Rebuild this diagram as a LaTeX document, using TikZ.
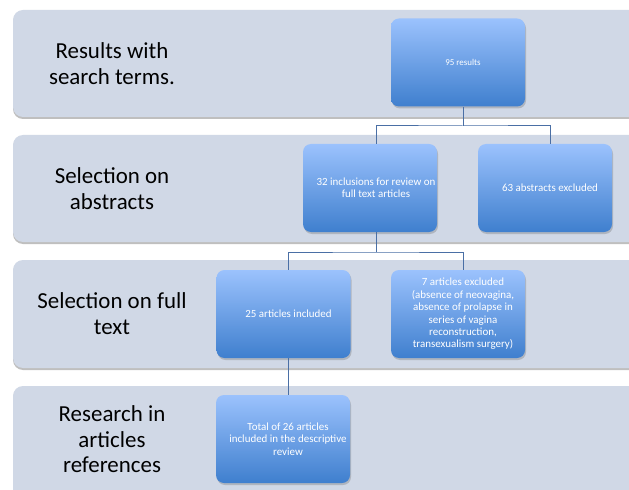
\documentclass[tikz,border=0pt]{standalone}
\usepackage{fontspec}
\setmainfont{Carlito}
\usetikzlibrary{shadows,fadings}
\definecolor{bandfill}{HTML}{D0D8E6}
\definecolor{boxtop}{HTML}{9BC2FD}
\definecolor{boxbot}{HTML}{3F7FCE}
\definecolor{conn}{HTML}{4A6FA5}
\begin{document}
\begin{tikzpicture}[x=1bp,y=-1bp,
  band/.style={fill=bandfill, rounded corners=10bp,
    drop shadow={shadow xshift=0bp, shadow yshift=-2bp, opacity=0.45, fill=black!55}},
  bandlabel/.style={align=center, text=black, inner sep=0pt,
    font=\fontsize{23}{25.5}\selectfont},
  box/.style={rectangle, rounded corners=8bp, top color=boxtop, bottom color=boxbot,
    draw=none, minimum width=134bp, minimum height=88bp, inner sep=0pt,
    drop shadow={shadow xshift=1bp, shadow yshift=-2bp, opacity=0.3, fill=black!60}},
  boxtext/.style={align=center, text=white, inner sep=0pt,
    font=\fontsize{11}{12.5}\selectfont},
  conn/.style={draw=conn, line width=1bp}
]
\useasboundingbox (0,0) rectangle (629,490);
\clip (0,0) rectangle (629,490);
\fill[white] (0,0) rectangle (629,490);

% bands
\fill[band] (13,10) rectangle (670,117);
\fill[band] (13,135) rectangle (670,242);
\fill[band] (13,260) rectangle (670,368);
\fill[band] (13,386) rectangle (670,500);

% band labels
\node[bandlabel] (l1) at (112,63.5) {Results with\\search terms.};
\node[bandlabel] (l2) at (112,188.5) {Selection on\\abstracts};
\node[bandlabel] (l3) at (112,313.5) {Selection on full\\text};
\node[bandlabel] (l4) at (112,439.5) {Research in\\articles\\references};

% boxes
\node[box] (b95) at (458,62.5) {};
\node[box] (b32) at (370,188) {};
\node[box] (b63) at (545,188) {};
\node[box] (b25) at (283.5,314) {};
\node[box] (b7)  at (458,314) {};
\node[box] (b26) at (283,439) {};

% box texts
\node[boxtext, font=\fontsize{9}{11}\selectfont] (t95) at ([xshift=5bp]b95.center) {95 results};
\node[boxtext] (t32) at ([xshift=6bp]b32.center) {32 inclusions for review on\\full text articles};
\node[boxtext] (t63) at ([xshift=5bp]b63.center) {63 abstracts excluded};
\node[boxtext] (t25) at ([xshift=5bp]b25.center) {25 articles included};
\node[boxtext] (t7)  at ([xshift=5bp]b7.center) {7 articles excluded\\(absence of neovagina,\\absence of prolapse in\\series of vagina\\reconstruction,\\transexualism surgery)};
\node[boxtext] (t26) at ([xshift=5bp]b26.center) {Total of 26 articles\\included in the descriptive\\review};

% connectors
\coordinate (j1) at (t95 |- 0,126);
\coordinate (j2) at (t32 |- 0,252);
\draw[conn] (t95 |- b95.south) -- (j1);
\draw[conn] (t32 |- b32.north) |- (j1) -| (t63 |- b63.north);
\draw[conn] (t32 |- b32.south) -- (j2);
\draw[conn] (t25 |- b25.north) |- (j2) -| (t7 |- b7.north);
\draw[conn] (t25 |- b25.south) -- (t25 |- b26.north);
\end{tikzpicture}
\end{document}
